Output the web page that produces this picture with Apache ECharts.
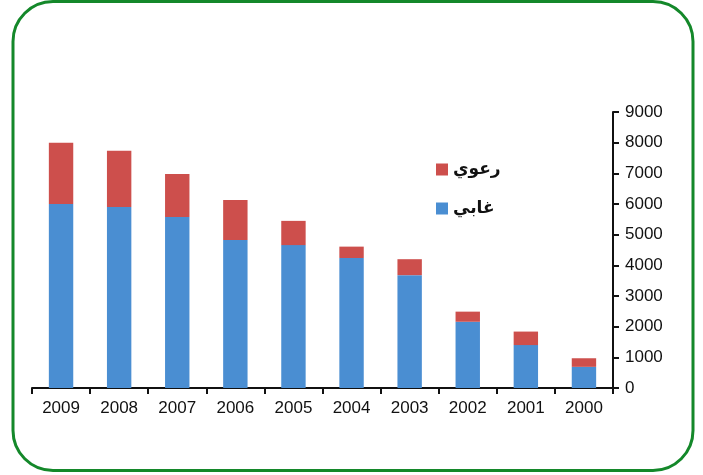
<!DOCTYPE html>
<html>
<head>
<meta charset="utf-8">
<script src="https://cdn.jsdelivr.net/npm/echarts@6/dist/echarts.min.js"></script>
<style>
html,body{margin:0;padding:0;background:#fff;}
#chart{width:703px;height:475px;}
</style>
</head>
<body>
<div id="chart"></div>
<script>
// السنوات ومعطيات السلسلتين
var years = ['2009','2008','2007','2006','2005','2004','2003','2002','2001','2000'];
var forest = [6000, 5900, 5580, 4830, 4660, 4240, 3680, 2160, 1400, 690];   // غابي
var pasture = [2000, 1840, 1400, 1300, 790, 370, 520, 330, 440, 280];       // رعوي
var yTicks = [0, 9000, 1000];

var myChart = echarts.init(document.getElementById('chart'));
var option = {
    animation: false,
    graphic: [{
        type: 'rect',
        shape: {x: 13, y: 1.5, width: 680, height: 469, r: 40},
        style: {fill: 'none', stroke: '#14882a', lineWidth: 3}
    }],
    legend: {
        orient: 'vertical',
        left: 431,
        top: 156,
        itemWidth: 12,
        itemHeight: 12,
        itemGap: 22,
        icon: 'rect',
        data: ['رعوي', 'غابي'],
        textStyle: {fontFamily: 'DejaVu Sans', fontWeight: 'bold', fontSize: 17, color: '#111'}
    },
    grid: {
        left: 32,
        right: 90,
        top: 112,
        bottom: 87
    },
    xAxis: {
        type: 'category',
        data: years,
        axisLine: {lineStyle: {color: '#111', width: 2}},
        axisTick: {show: true, length: 6, lineStyle: {color: '#111', width: 2}},
        axisLabel: {color: '#111', fontSize: 17, fontFamily: 'Liberation Sans', margin: 12}
    },
    yAxis: {
        type: 'value',
        position: 'right',
        min: yTicks[0],
        max: yTicks[1],
        interval: yTicks[2],
        splitLine: {show: false},
        axisLine: {show: true, lineStyle: {color: '#111', width: 2}},
        axisTick: {show: true, length: 6, lineStyle: {color: '#111', width: 2}},
        axisLabel: {
            color: '#111', fontSize: 17, fontFamily: 'Liberation Sans', margin: 12,
            formatter: function (v) { return String(v); }
        }
    },
    series: [
        {
            name: 'غابي',
            type: 'bar',
            stack: 'total',
            barWidth: '42%',
            data: forest,
            itemStyle: {color: '#4a8ed2'}
        },
        {
            name: 'رعوي',
            type: 'bar',
            stack: 'total',
            data: pasture,
            itemStyle: {color: '#cd4f4c'}
        }
    ]
};
myChart.setOption(option);
</script>
</body>
</html>
